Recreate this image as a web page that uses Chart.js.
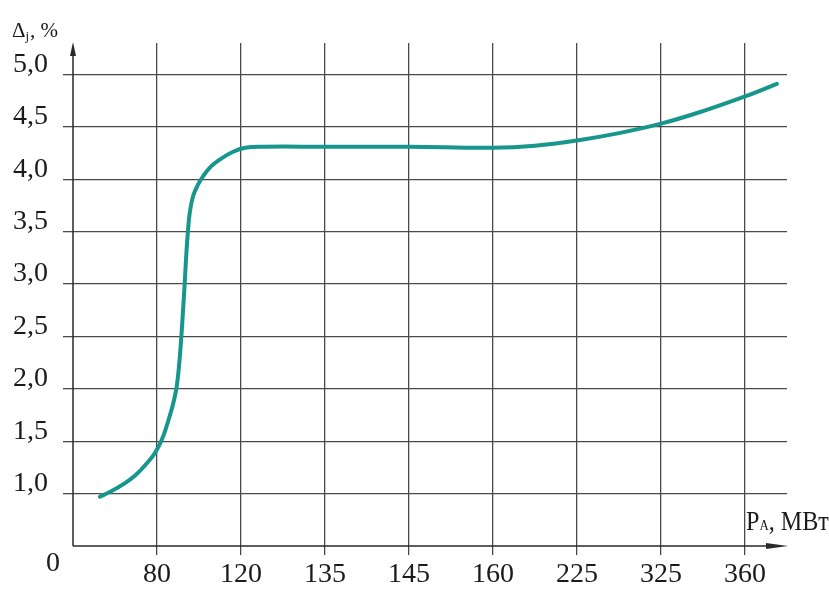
<!DOCTYPE html>
<html>
<head>
<meta charset="utf-8">
<script src="https://cdn.jsdelivr.net/npm/chart.js@4"></script>
<style>
  html, body { margin: 0; background: #fff; }
</style>
</head>
<body>
<canvas id="grafico" width="829" height="589"></canvas>
<script>
// posiciones en el eje X (índice de la división) y valores de Δj, %
const posiciones = [0.32, 0.45, 0.6, 0.75, 0.88, 0.96, 1.02, 1.08, 1.14, 1.19, 1.23, 1.26, 1.29, 1.31, 1.33, 1.35, 1.37, 1.39, 1.43, 1.49, 1.55, 1.64, 1.75, 1.9, 2.05, 2.25, 3, 4, 5, 5.5, 6, 6.5, 7, 7.5, 8, 8.38];
const valores = [0.97, 1.02, 1.09, 1.18, 1.29, 1.37, 1.45, 1.56, 1.71, 1.85, 2.0, 2.2, 2.5, 2.75, 3.01, 3.3, 3.52, 3.68, 3.84, 3.95, 4.03, 4.12, 4.19, 4.26, 4.30, 4.31, 4.31, 4.31, 4.30, 4.32, 4.37, 4.44, 4.53, 4.65, 4.79, 4.91];

const etiquetasX = ['', '80', '120', '135', '145', '160', '225', '325', '360'];
const marcasY = [0.5, 1.0, 1.5, 2.0, 2.5, 3.0, 3.5, 4.0, 4.5, 5.0];
const etiquetasY = ['0', '1,0', '1,5', '2,0', '2,5', '3,0', '3,5', '4,0', '4,5', '5,0'];

const fuente = '"Liberation Serif", "Times New Roman", serif';
Chart.defaults.font.family = fuente;

const colorGrid = '#4a4a4a';
const colorEje = '#2a2a2a';

// ejes con flechas y textos de los ejes
const ejesPlugin = {
    id: 'ejes',
    afterDraw(chart) {
        const ctx = chart.ctx;
        const xs = chart.scales.x;
        const ys = chart.scales.y;
        const x0 = xs.getPixelForValue(0);
        const y0 = ys.getPixelForValue(0.5);
        const xFin = xs.getPixelForValue(8.5);
        const yFin = ys.getPixelForValue(5.3);

        ctx.save();
        ctx.strokeStyle = colorEje;
        ctx.fillStyle = colorEje;
        ctx.lineWidth = 1.5;
        ctx.beginPath();
        ctx.moveTo(x0, y0);
        ctx.lineTo(x0, yFin + 10);
        ctx.moveTo(x0, y0);
        ctx.lineTo(xFin - 18, y0);
        ctx.stroke();

        // flecha eje Y
        ctx.beginPath();
        ctx.moveTo(x0, yFin - 1);
        ctx.lineTo(x0 - 3, yFin + 13);
        ctx.lineTo(x0 + 3, yFin + 13);
        ctx.closePath();
        ctx.fill();

        // flecha eje X
        ctx.beginPath();
        ctx.moveTo(xFin + 1, y0);
        ctx.lineTo(xFin - 21, y0 - 3);
        ctx.lineTo(xFin - 21, y0 + 3);
        ctx.closePath();
        ctx.fill();

        ctx.fillStyle = '#1a1a1a';
        ctx.textBaseline = 'alphabetic';

        // "0" en el origen
        ctx.font = '28px ' + fuente;
        ctx.textAlign = 'center';
        ctx.fillText(etiquetasY[0], x0 - 20, y0 + 25);

        // título eje Y: Δj, %
        ctx.textAlign = 'left';
        ctx.font = '21px ' + fuente;
        ctx.fillText('Δ', 12, 37);
        let w = ctx.measureText('Δ').width;
        ctx.font = '13px ' + fuente;
        ctx.fillText('j', 12 + w, 40);
        w += ctx.measureText('j').width;
        ctx.font = '21px ' + fuente;
        ctx.fillText(', %', 12 + w + 1, 37);

        // título eje X: PA, МВт
        ctx.save();
        ctx.translate(746, 530);
        ctx.scale(0.86, 1);
        ctx.font = '28px ' + fuente;
        ctx.fillText('P', 0, 0);
        let w2 = ctx.measureText('P').width;
        ctx.font = '15px ' + fuente;
        ctx.fillText('A', w2, 0);
        w2 += ctx.measureText('A').width;
        ctx.font = '28px ' + fuente;
        ctx.fillText(', МВт', w2, 0);
        ctx.restore();

        ctx.restore();
    }
};

const ctx = document.getElementById('grafico').getContext('2d');
new Chart(ctx, {
    type: 'line',
    data: {
        datasets: [{
            data: posiciones.map((p, i) => ({ x: p, y: valores[i] })),
            borderColor: '#16968c',
            borderWidth: 4,
            pointRadius: 0,
            fill: false,
            tension: 0.4,
            borderCapStyle: 'round'
        }]
    },
    options: {
        responsive: false,
        devicePixelRatio: 1,
        animation: false,
        layout: { padding: { top: 43, right: 42, left: 0, bottom: 0 } },
        plugins: {
            legend: { display: false },
            tooltip: { enabled: false }
        },
        scales: {
            x: {
                type: 'linear',
                min: 0,
                max: 8.5,
                afterBuildTicks: s => { s.ticks = etiquetasX.map((_, i) => ({ value: i })); },
                afterFit: s => { s.height = 43; },
                border: { display: false },
                grid: {
                    color: c => c.index === 0 ? 'rgba(0,0,0,0)' : colorGrid,
                    lineWidth: 1.3,
                    tickLength: 9
                },
                ticks: {
                    autoSkip: false,
                    maxRotation: 0,
                    padding: 3,
                    color: '#1a1a1a',
                    font: { size: 28 },
                    callback: v => etiquetasX[v]
                }
            },
            y: {
                min: 0.5,
                max: 5.3,
                afterBuildTicks: s => { s.ticks = marcasY.map(v => ({ value: v })); },
                afterFit: s => { s.width = 73; },
                border: { display: false },
                grid: {
                    color: c => c.index === 0 ? 'rgba(0,0,0,0)' : colorGrid,
                    lineWidth: 1.3,
                    tickLength: 10
                },
                ticks: {
                    autoSkip: false,
                    padding: 15,
                    labelOffset: -10,
                    color: '#1a1a1a',
                    font: { size: 28 },
                    callback: (v, i) => i === 0 ? '' : etiquetasY[i]
                }
            }
        }
    },
    plugins: [ejesPlugin]
});
</script>
</body>
</html>
